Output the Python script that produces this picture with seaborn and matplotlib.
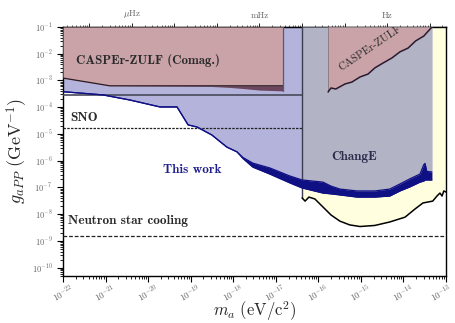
import numpy as np
import pandas as pd
import matplotlib
matplotlib.use("Agg")
import matplotlib.pyplot as plt
import matplotlib.ticker as mticker
import seaborn as sns

sns.set_style("ticks")
plt.rcParams.update({
    "font.family": "serif",
    "font.serif": ["cmr10", "DejaVu Serif"],
    "mathtext.fontset": "cm",
    "axes.unicode_minus": False,
    "axes.formatter.use_mathtext": True,
})

# ---- limits from this work (log10 of mass in eV, log10 of coupling in GeV^-1)
tw_logm = [-22.0, -21.06, -20.43, -19.72, -19.32, -19.06, -18.85, -18.50, -18.15,
           -17.91, -17.77, -17.54, -17.14, -16.67, -16.38, -15.89, -15.70, -15.49,
           -15.09, -14.67, -14.32, -14.08, -13.85, -13.61, -13.52, -13.49, -13.45, -13.33]
tw_hi = [-3.42, -3.54, -3.73, -3.99, -3.99, -4.66, -4.74, -5.04, -5.49,
         -5.67, -5.88, -6.09, -6.27, -6.57, -6.72, -6.80, -6.95, -7.06,
         -7.13, -7.13, -7.06, -6.87, -6.68, -6.50, -6.15, -6.10, -6.40, -6.42]
tw_lo = [-3.42, -3.54, -3.73, -3.99, -3.99, -4.66, -4.74, -5.04, -5.49,
         -5.67, -5.92, -6.24, -6.50, -6.83, -7.02, -7.21, -7.24, -7.28,
         -7.36, -7.36, -7.32, -7.13, -6.98, -6.80, -6.76, -6.72, -6.72, -6.72]

# ---- ChangE / astrophysical black contour
blk_logm = [-16.38, -16.31, -16.22, -16.08, -15.89, -15.70, -15.49, -15.26, -15.02,
            -14.67, -14.32, -13.96, -13.73, -13.54, -13.31, -13.21, -13.14, -13.09,
            -13.05, -13.00]
blk_g = [-7.39, -7.51, -7.36, -7.43, -7.73, -8.03, -8.26, -8.40, -8.46,
         -8.42, -8.29, -8.11, -7.81, -7.58, -7.51, -7.32, -7.21, -7.32,
         -7.13, -7.17]
changee_logm = [-16.38, -13.33]

# ---- CASPEr-ZULF (Comag.)
comag_logm = [-22.0, -20.90, -18.50, -18.08, -17.77, -17.37, -16.83]
comag_g = [-2.91, -3.20, -3.20, -3.20, -3.20, -3.20, -3.20]
comag_noise = [-2.91, -3.20, -3.225, -3.26, -3.30, -3.36, -3.39]

# ---- CASPEr-ZULF (high frequency)
zulf_logm = [-15.77, -15.70, -15.59, -15.37, -15.21, -15.02, -14.83, -14.67,
             -14.48, -14.27, -14.08, -13.89, -13.71, -13.52, -13.35, -13.33]
zulf_g = [-3.43, -3.28, -3.32, -3.13, -3.06, -2.87, -2.76, -2.53,
          -2.35, -2.16, -1.93, -1.79, -1.52, -1.34, -1.04, -1.0]

# ---- horizontal bounds
old_limit = -3.54
sno_limit = 1.7e-5
ns_limit = 1.5e-9
hline_end_logm = -16.38

# frequency labels on the top axis
freq_ticks = [1e-6, 1e-3, 1.0]
freq_labels = [r"$\mu$Hz", "mHz", "Hz"]

EV_TO_HZ = 2.418e14

c_pink = "#c9a3a8"
c_lav = "#b3b3dc"
c_gray = "#b3b3c6"
c_yel = "#ffffe0"
c_navy = "#101085"
c_text = "#2a2a2a"
c_tick = "#666666"

P = lambda v: 10.0 ** np.asarray(v, dtype=float)

fig = plt.figure(figsize=(4.55, 3.23), dpi=100)
ax = fig.add_axes([0.1385, 0.1455, 0.8415, 0.771])
ax.set_xscale("log")
ax.set_yscale("log")
xmin, xmax = 1e-22, 1e-13
ymin, ymax = 10 ** -10.31, 1e-1
ax.set_xlim(xmin, xmax)
ax.set_ylim(ymin, ymax)

m_tw = P(tw_logm)
hi = P(tw_hi)
lo = P(tw_lo)
m_blk = P(blk_logm)
g_blk = P(blk_g)

# yellow region above the black contour
ax.fill_between(m_blk, g_blk, ymax, color=c_yel, lw=0, zorder=1)
# this work excluded region
ax.fill_between(m_tw, lo, ymax, color=c_lav, lw=0, zorder=2)
# ChangE region
m_chg = P(changee_logm)
ax.fill_between(m_tw, hi, ymax, where=(m_tw >= m_chg[0] * 0.999), color=c_gray,
                lw=0, zorder=3)

# CASPEr-ZULF (Comag.)
m_cm = P(comag_logm)
ax.fill_between(m_cm, P(comag_g), ymax, color=c_pink, lw=0, zorder=4)
ax.fill_between(m_cm, P(comag_noise), P(comag_g), color="#5a2a40", alpha=0.8,
                lw=0, zorder=5)
ax.plot(m_cm, P(comag_g), color="#2a1a20", lw=0.9, zorder=5)
ax.plot([m_cm[-1], m_cm[-1]], [P(comag_noise[-1]), ymax], color="#5a5a6a", lw=0.9, zorder=5)

# CASPEr-ZULF high frequency wedge
m_z = P(zulf_logm)
ax.fill_between(m_z, P(zulf_g), ymax, color=c_pink, lw=0, zorder=4)
ax.plot([m_z[0], m_z[0]], [P(zulf_g[0]), ymax], color="#7a6a70", lw=0.5, zorder=5)
ax.plot(m_z, P(zulf_g), color="#2a1a30", lw=1.1, zorder=5)

# older limit and SNO
m_h = [xmin, P(hline_end_logm)]
ax.plot(m_h, [P(old_limit)] * 2, color="#4a4a5a", lw=1.2, zorder=6)
ax.plot(m_h, [sno_limit] * 2, color="#222222", lw=0.9, ls=(0, (2, 1)), zorder=6)
# neutron star cooling
ax.plot([xmin, xmax], [ns_limit] * 2, color="#222222", lw=0.9, ls=(0, (3, 1.5)), zorder=6)

# ChangE left edge
ax.plot([m_chg[0], m_chg[0]], [g_blk[0], ymax], color="#3c3c50", lw=1.0, zorder=6)

# black contour
df_blk = pd.DataFrame({"m": m_blk, "g": g_blk})
sns.lineplot(data=df_blk, x="m", y="g", color="black", lw=1.1, sort=False,
             estimator=None, ax=ax, zorder=7)

# this work band
ax.fill_between(m_tw, lo, hi, color=c_navy, lw=0, zorder=7)
df_tw = pd.DataFrame({"m": np.concatenate([m_tw, m_tw]),
                      "g": np.concatenate([hi, lo]),
                      "edge": ["hi"] * len(m_tw) + ["lo"] * len(m_tw)})
sns.lineplot(data=df_tw, x="m", y="g", units="edge", color=c_navy, lw=0.9,
             estimator=None, sort=False, ax=ax, zorder=8)

# labels
bold = dict(fontname="cmb10", fontsize=9.5, color=c_text, zorder=10)
ax.text(P(-21.69), P(-2.26), "CASPEr-ZULF (Comag.)", ha="left", va="center",
        **{**bold, "fontsize": 9.3})
ax.text(P(-21.84), P(-4.40), "SNO", ha="left", va="center", **bold)
ax.text(P(-21.88), P(-8.26), "Neutron star cooling", ha="left", va="center", **bold)
ax.text(P(-18.97), P(-6.35), "This work", ha="center", va="center",
        **{**bold, "color": "#1f1f8f"})
ax.text(P(-15.15), P(-5.86), "ChangE", ha="center", va="center",
        **{**bold, "color": "#2a2a4a"})
ax.text(P(-14.78), P(-1.80), "CASPEr-ZULF", ha="center", va="center", rotation=34,
        fontname="cmr10", fontsize=7.8, color=c_text, zorder=10, clip_on=True)

ax.set_xlabel(r"$m_a\ (\mathrm{eV/c}^2)$", fontsize=12, labelpad=-4)
ax.set_ylabel(r"$g_{aPP}\ (\mathrm{GeV}^{-1})$", fontsize=13, labelpad=1)

# ticks
mass_decades = [-22, -21, -20, -19, -18, -17, -16, -15, -14, -13]
ax.xaxis.set_major_locator(mticker.FixedLocator(P(mass_decades)))
ax.xaxis.set_minor_locator(mticker.LogLocator(base=10, subs=np.arange(2, 10), numticks=200))


def mass_fmt(v, pos):
    e = int(round(np.log10(v)))
    # the right-most decade is written separately so that it stays on the canvas
    return "" if e == mass_decades[-1] else rf"$10^{{{e}}}$"


ax.xaxis.set_major_formatter(mticker.FuncFormatter(mass_fmt))
ax.yaxis.set_major_locator(mticker.LogLocator(base=10, numticks=20))
ax.yaxis.set_minor_locator(mticker.LogLocator(base=10, subs=np.arange(2, 10), numticks=200))
ax.xaxis.set_minor_formatter(mticker.NullFormatter())
ax.yaxis.set_minor_formatter(mticker.NullFormatter())
ax.tick_params(which="major", direction="out", length=4, width=0.8, labelsize=6,
               labelcolor=c_tick, color="black")
ax.tick_params(axis="x", which="major", labelsize=6.5, pad=0.5)
ax.tick_params(which="minor", direction="out", length=2.2, width=0.6, color="black")
plt.setp(ax.get_xticklabels(), rotation=30, ha="center")
ax.annotate(rf"$10^{{{mass_decades[-1]}}}$", xy=(P(mass_decades[-1]), 0),
            xycoords=("data", "axes fraction"), xytext=(-3.5, -4.5),
            textcoords="offset points", rotation=30, ha="center", va="top",
            fontsize=6.5, color=c_tick, annotation_clip=False)
for s in ax.spines.values():
    s.set_linewidth(1.0)
    s.set_color("black")

# frequency axis on top
sec = ax.secondary_xaxis("top", functions=(lambda m: m * EV_TO_HZ, lambda f: f / EV_TO_HZ))
sec.xaxis.set_major_locator(mticker.LogLocator(base=10, numticks=20))
sec.xaxis.set_minor_locator(mticker.LogLocator(base=10, subs=np.arange(2, 10), numticks=200))
lab_map = dict(zip(freq_ticks, freq_labels))


def freq_fmt(v, pos):
    for k, s in lab_map.items():
        if abs(np.log10(v) - np.log10(k)) < 1e-6:
            return s
    return ""


sec.xaxis.set_major_formatter(mticker.FuncFormatter(freq_fmt))
sec.xaxis.set_minor_formatter(mticker.NullFormatter())
sec.tick_params(which="major", direction="out", length=3, width=0.7, labelsize=6.5,
                labelcolor=c_tick, pad=2)
sec.tick_params(which="minor", direction="out", length=1.8, width=0.5)
sec.spines["top"].set_linewidth(1.0)

fig.savefig("out.png", dpi=100)
